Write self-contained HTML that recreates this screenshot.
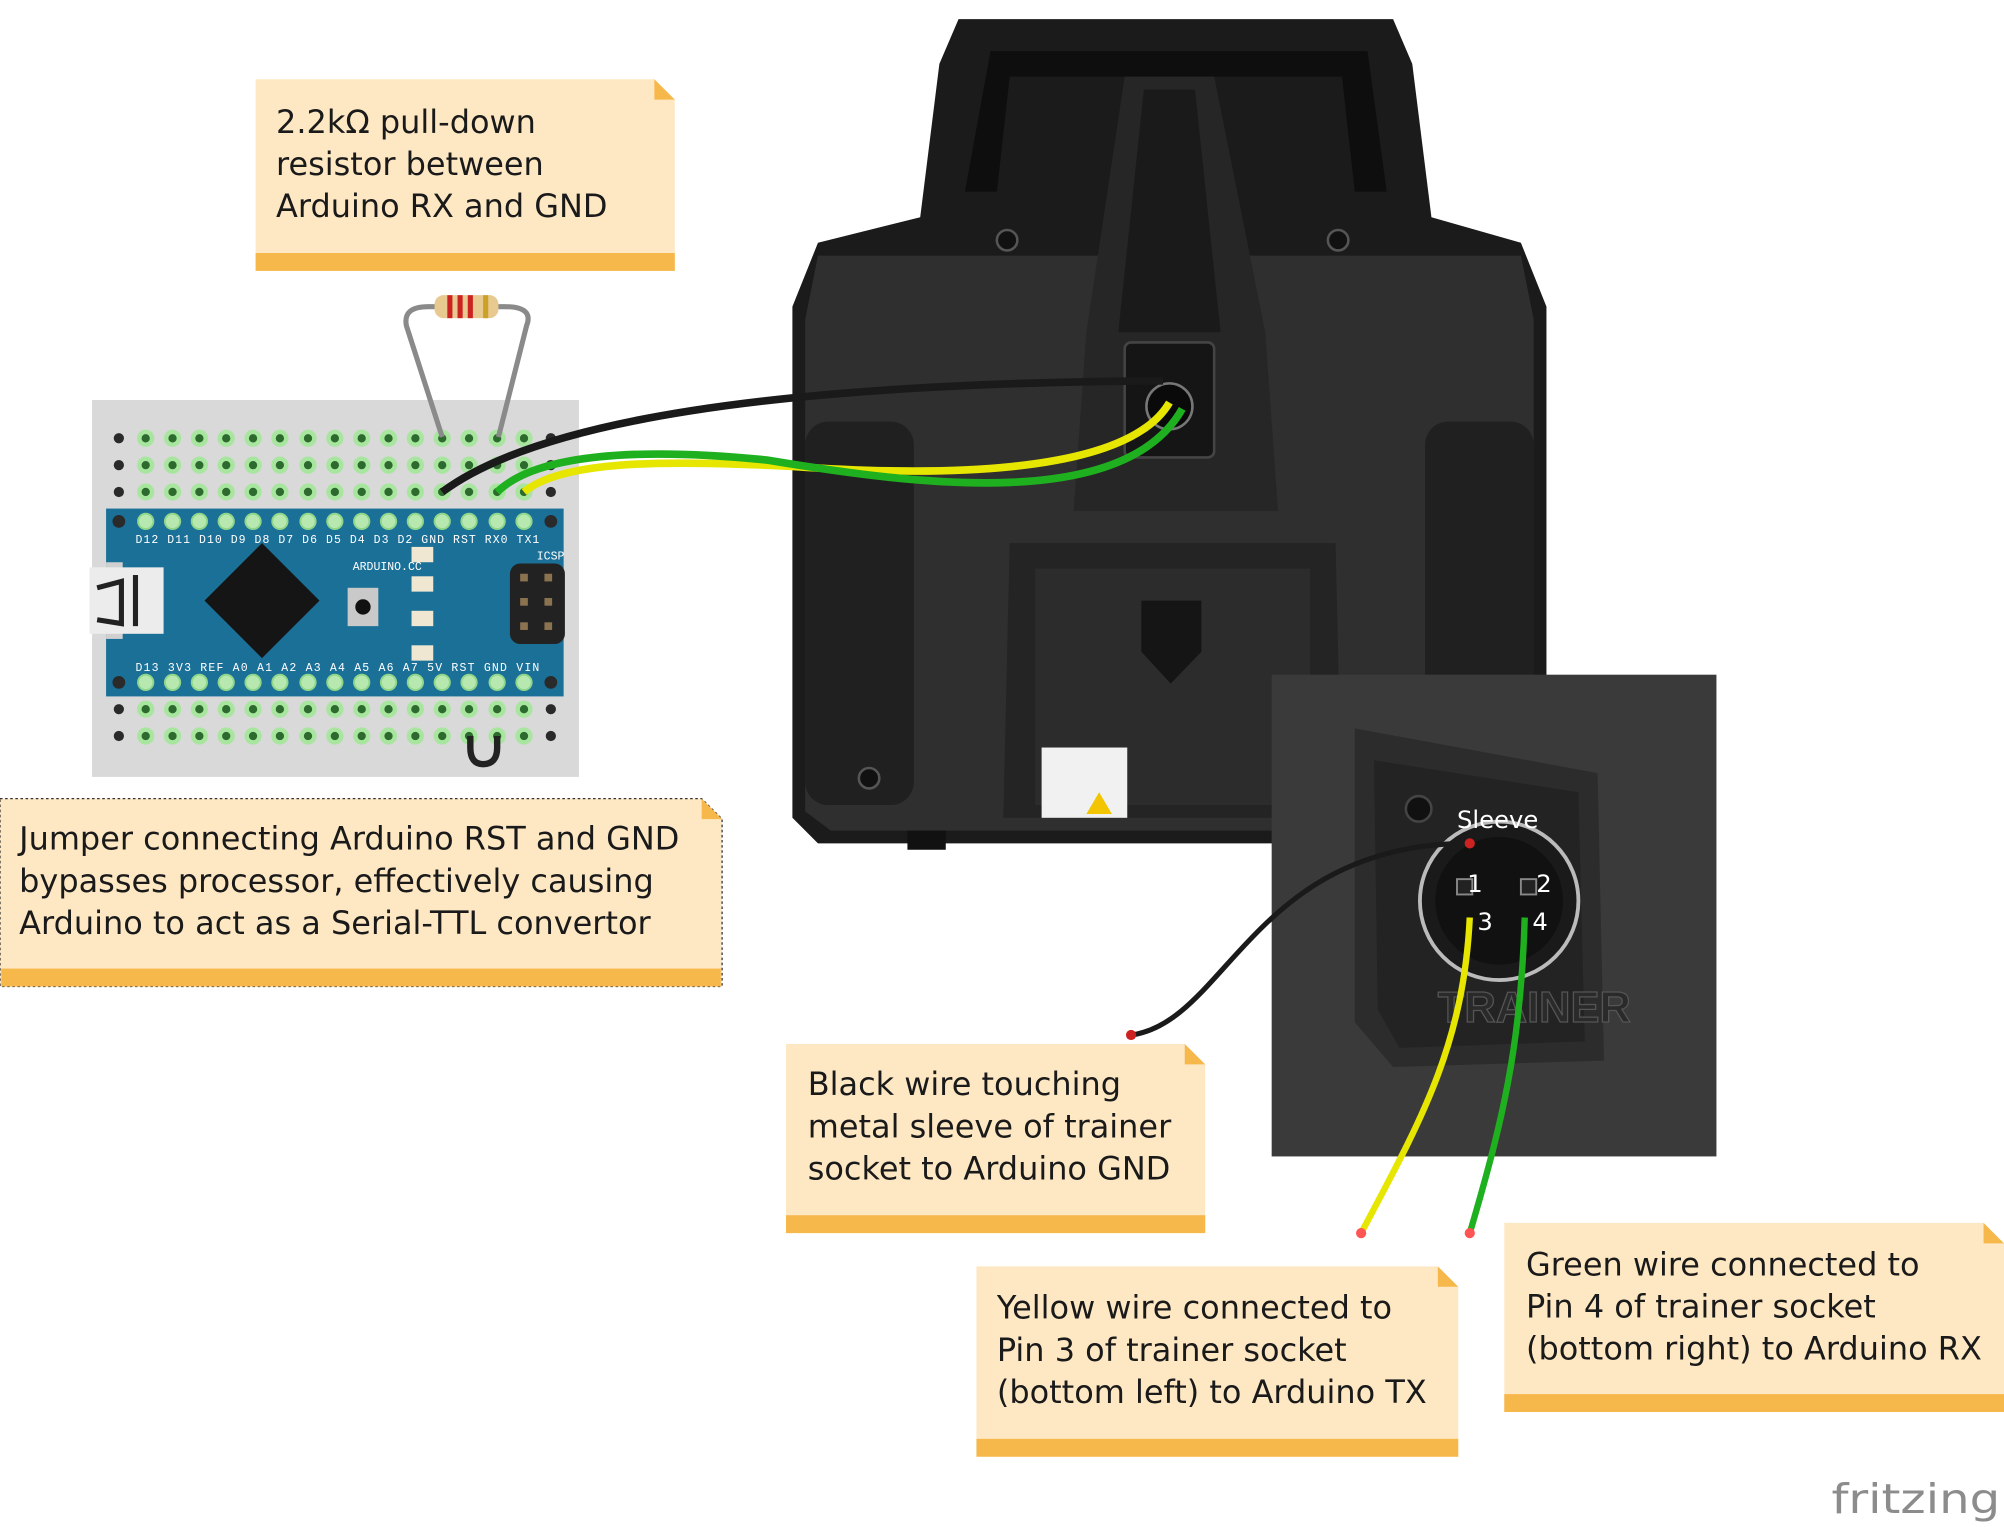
<!DOCTYPE html>
<html><head><meta charset="utf-8"><style>
html,body{margin:0;padding:0;background:#fff;}
svg{display:block;}
.n{font-family:"DejaVu Sans","Liberation Sans",sans-serif;font-size:25px;fill:#1a1a1a;}
.pl{font-family:"Liberation Mono",monospace;font-size:9px;fill:#fff;}
.h circle{fill:#2d6a2d;stroke:#a8e6a0;stroke-width:3.5;}
.p circle{fill:#b6e8b0;stroke:#8fd68a;stroke-width:1.5;}
</style></head><body>
<svg width="2004" height="1527" viewBox="0 0 1568 1195" preserveAspectRatio="none" xmlns="http://www.w3.org/2000/svg">
<rect width="1568" height="1195" fill="#fff"/>

<!-- Transmitter body -->
<path d="M750 15 L1090 15 L1105 50 L1120 170 L1190 190 L1210 240 L1210 640 L1190 660 L640 660 L620 640 L620 240 L640 190 L720 170 L735 50 Z" fill="#1b1b1b"/>
<path d="M775 40 L1070 40 L1085 150 L1060 150 L1050 60 L790 60 L780 150 L755 150 Z" fill="#0e0e0e"/>
<path d="M640 200 L1190 200 L1200 250 L1200 635 L1185 650 L650 650 L630 635 L630 250 Z" fill="#2f2f2f"/>
<path d="M880 60 L950 60 L990 260 L1000 400 L840 400 L850 260 Z" fill="#262626"/>
<path d="M895 70 L935 70 L955 260 L875 260 Z" fill="#1a1a1a"/>
<rect x="630" y="330" width="85" height="300" rx="18" fill="#202020"/>
<rect x="1115" y="330" width="85" height="300" rx="18" fill="#202020"/>
<rect x="880" y="268" width="70" height="90" rx="5" fill="#151515" stroke="#444" stroke-width="2"/>
<circle cx="915" cy="318" r="18" fill="#0a0a0a" stroke="#777" stroke-width="2"/>
<path d="M790 425 L1045 425 L1050 640 L785 640 Z" fill="#242424"/>
<path d="M810 445 L1025 445 L1025 630 L810 630 Z" fill="#2c2c2c"/>
<path d="M893 470 L940 470 L940 510 L916 535 L893 510 Z" fill="#151515"/>
<rect x="815" y="585" width="67" height="55" fill="#f1f1f1"/>
<polygon points="860,620 850,637 870,637" fill="#f2c500"/>
<circle cx="788" cy="188" r="8" fill="#111" stroke="#555" stroke-width="2"/>
<circle cx="1047" cy="188" r="8" fill="#111" stroke="#555" stroke-width="2"/>
<circle cx="680" cy="609" r="8" fill="#111" stroke="#555" stroke-width="2"/>
<rect x="710" y="650" width="30" height="15" fill="#111"/>

<!-- Inset photo -->
<rect x="995" y="528" width="348" height="377" fill="#3a3a3a"/>
<path d="M1060 570 L1250 605 L1255 830 L1090 835 L1060 800 Z" fill="#2c2c2c"/>
<path d="M1075 595 L1235 620 L1240 815 L1095 820 L1078 790 Z" fill="#232323"/>
<circle cx="1110" cy="633" r="10" fill="#111" stroke="#444" stroke-width="2"/>
<circle cx="1173" cy="705" r="62" fill="#1a1a1a" stroke="#bbb" stroke-width="3"/>
<circle cx="1173" cy="705" r="50" fill="#111"/>
<rect x="1140" y="688" width="12" height="12" fill="#222" stroke="#888" stroke-width="1.5"/>
<rect x="1190" y="688" width="12" height="12" fill="#222" stroke="#888" stroke-width="1.5"/>
<text x="1125" y="800" font-family="Liberation Sans,sans-serif" font-weight="bold" font-size="34" fill="#2a2a2a" stroke="#555" stroke-width="1">TRAINER</text>
<text x="1140" y="648" font-family="DejaVu Sans,sans-serif" font-size="19" fill="#fff">Sleeve</text>
<text x="1148" y="698" font-family="DejaVu Sans,sans-serif" font-size="19" fill="#fff">1</text>
<text x="1202" y="698" font-family="DejaVu Sans,sans-serif" font-size="19" fill="#fff">2</text>
<text x="1156" y="728" font-family="DejaVu Sans,sans-serif" font-size="19" fill="#fff">3</text>
<text x="1199" y="728" font-family="DejaVu Sans,sans-serif" font-size="19" fill="#fff">4</text>

<!-- Breadboard -->
<rect x="72" y="313" width="381" height="295" fill="#d9d9d9"/>
<g class="h">
<circle cx="114" cy="343" r="5"/><circle cx="135" cy="343" r="5"/><circle cx="156" cy="343" r="5"/><circle cx="177" cy="343" r="5"/><circle cx="198" cy="343" r="5"/><circle cx="219" cy="343" r="5"/><circle cx="241" cy="343" r="5"/><circle cx="262" cy="343" r="5"/><circle cx="283" cy="343" r="5"/><circle cx="304" cy="343" r="5"/><circle cx="325" cy="343" r="5"/><circle cx="346" cy="343" r="5"/><circle cx="367" cy="343" r="5"/><circle cx="389" cy="343" r="5"/><circle cx="410" cy="343" r="5"/>
<circle cx="114" cy="364" r="5"/><circle cx="135" cy="364" r="5"/><circle cx="156" cy="364" r="5"/><circle cx="177" cy="364" r="5"/><circle cx="198" cy="364" r="5"/><circle cx="219" cy="364" r="5"/><circle cx="241" cy="364" r="5"/><circle cx="262" cy="364" r="5"/><circle cx="283" cy="364" r="5"/><circle cx="304" cy="364" r="5"/><circle cx="325" cy="364" r="5"/><circle cx="346" cy="364" r="5"/><circle cx="367" cy="364" r="5"/><circle cx="389" cy="364" r="5"/><circle cx="410" cy="364" r="5"/>
<circle cx="114" cy="385" r="5"/><circle cx="135" cy="385" r="5"/><circle cx="156" cy="385" r="5"/><circle cx="177" cy="385" r="5"/><circle cx="198" cy="385" r="5"/><circle cx="219" cy="385" r="5"/><circle cx="241" cy="385" r="5"/><circle cx="262" cy="385" r="5"/><circle cx="283" cy="385" r="5"/><circle cx="304" cy="385" r="5"/><circle cx="325" cy="385" r="5"/><circle cx="346" cy="385" r="5"/><circle cx="367" cy="385" r="5"/><circle cx="389" cy="385" r="5"/><circle cx="410" cy="385" r="5"/>
<circle cx="114" cy="555" r="5"/><circle cx="135" cy="555" r="5"/><circle cx="156" cy="555" r="5"/><circle cx="177" cy="555" r="5"/><circle cx="198" cy="555" r="5"/><circle cx="219" cy="555" r="5"/><circle cx="241" cy="555" r="5"/><circle cx="262" cy="555" r="5"/><circle cx="283" cy="555" r="5"/><circle cx="304" cy="555" r="5"/><circle cx="325" cy="555" r="5"/><circle cx="346" cy="555" r="5"/><circle cx="367" cy="555" r="5"/><circle cx="389" cy="555" r="5"/><circle cx="410" cy="555" r="5"/>
<circle cx="114" cy="576" r="5"/><circle cx="135" cy="576" r="5"/><circle cx="156" cy="576" r="5"/><circle cx="177" cy="576" r="5"/><circle cx="198" cy="576" r="5"/><circle cx="219" cy="576" r="5"/><circle cx="241" cy="576" r="5"/><circle cx="262" cy="576" r="5"/><circle cx="283" cy="576" r="5"/><circle cx="304" cy="576" r="5"/><circle cx="325" cy="576" r="5"/><circle cx="346" cy="576" r="5"/><circle cx="367" cy="576" r="5"/><circle cx="389" cy="576" r="5"/><circle cx="410" cy="576" r="5"/>
</g>
<g fill="#2a2a2a">
<circle cx="93" cy="343" r="4"/><circle cx="93" cy="364" r="4"/><circle cx="93" cy="385" r="4"/><circle cx="93" cy="555" r="4"/><circle cx="93" cy="576" r="4"/>
<circle cx="431" cy="343" r="4"/><circle cx="431" cy="364" r="4"/><circle cx="431" cy="385" r="4"/><circle cx="431" cy="555" r="4"/><circle cx="431" cy="576" r="4"/>
</g>

<!-- Arduino -->
<rect x="83" y="398" width="358" height="147" fill="#1b7098"/>
<rect x="83" y="440" width="13" height="60" fill="#d0d0d0"/>
<rect x="70" y="444" width="58" height="52" fill="#ececec"/>
<rect x="104" y="450" width="4" height="40" fill="#222"/>
<path d="M76 460 L95 455 L95 488 L76 485" fill="none" stroke="#222" stroke-width="4"/>
<polygon points="205,425 250,470 205,515 160,470" fill="#151515"/>
<rect x="272" y="460" width="24" height="30" fill="#c9c9c9"/>
<circle cx="284" cy="475" r="6" fill="#111"/>
<rect x="322" y="428" width="17" height="12" fill="#efe7d2"/>
<rect x="322" y="451" width="17" height="12" fill="#efe7d2"/>
<rect x="322" y="478" width="17" height="12" fill="#efe7d2"/>
<rect x="322" y="505" width="17" height="12" fill="#efe7d2"/>
<rect x="399" y="441" width="43" height="63" rx="8" fill="#222"/>
<g fill="#8b7350"><rect x="407" y="449" width="6" height="6"/><rect x="426" y="449" width="6" height="6"/><rect x="407" y="468" width="6" height="6"/><rect x="426" y="468" width="6" height="6"/><rect x="407" y="487" width="6" height="6"/><rect x="426" y="487" width="6" height="6"/></g>
<text class="pl" x="106" y="425" textLength="316" lengthAdjust="spacing">D12 D11 D10 D9  D8  D7  D6  D5  D4  D3  D2 GND RST RX0 TX1</text>
<text class="pl" x="106" y="525" textLength="316" lengthAdjust="spacing">D13 3V3 REF A0  A1  A2  A3  A4  A5  A6  A7  5V RST GND VIN</text>
<text class="pl" x="276" y="446">ARDUINO.CC</text>
<text class="pl" x="420" y="438">ICSP</text>
<g class="p">
<circle cx="114" cy="408" r="6"/><circle cx="135" cy="408" r="6"/><circle cx="156" cy="408" r="6"/><circle cx="177" cy="408" r="6"/><circle cx="198" cy="408" r="6"/><circle cx="219" cy="408" r="6"/><circle cx="241" cy="408" r="6"/><circle cx="262" cy="408" r="6"/><circle cx="283" cy="408" r="6"/><circle cx="304" cy="408" r="6"/><circle cx="325" cy="408" r="6"/><circle cx="346" cy="408" r="6"/><circle cx="367" cy="408" r="6"/><circle cx="389" cy="408" r="6"/><circle cx="410" cy="408" r="6"/>
<circle cx="114" cy="534" r="6"/><circle cx="135" cy="534" r="6"/><circle cx="156" cy="534" r="6"/><circle cx="177" cy="534" r="6"/><circle cx="198" cy="534" r="6"/><circle cx="219" cy="534" r="6"/><circle cx="241" cy="534" r="6"/><circle cx="262" cy="534" r="6"/><circle cx="283" cy="534" r="6"/><circle cx="304" cy="534" r="6"/><circle cx="325" cy="534" r="6"/><circle cx="346" cy="534" r="6"/><circle cx="367" cy="534" r="6"/><circle cx="389" cy="534" r="6"/><circle cx="410" cy="534" r="6"/>
</g>
<g fill="#2a2a2a"><circle cx="93" cy="408" r="5"/><circle cx="431" cy="408" r="5"/><circle cx="93" cy="534" r="5"/><circle cx="431" cy="534" r="5"/></g>

<!-- resistor -->
<path d="M346 342 L318 255 Q315 240 335 240 L395 240 Q418 240 412 255 L390 342" fill="none" stroke="#8a8a8a" stroke-width="4"/>
<rect x="340" y="231" width="50" height="18" rx="7" fill="#e8c98f"/>
<rect x="350" y="231" width="4" height="18" fill="#c22"/><rect x="358" y="231" width="4" height="18" fill="#c22"/><rect x="366" y="231" width="4" height="18" fill="#c22"/><rect x="378" y="231" width="4" height="18" fill="#c9a227"/>

<!-- jumper -->
<path d="M368 576 L368 585 Q368 598 378 598 Q389 598 389 585 L389 576" fill="none" stroke="#222" stroke-width="5"/>

<!-- wires on board to transmitter -->
<path d="M346 385 C420 330 600 300 910 298" fill="none" stroke="#1a1a1a" stroke-width="6"/>
<path d="M410 385 C440 360 520 360 620 365 C720 372 880 375 915 315" fill="none" stroke="#e6e600" stroke-width="6"/>
<path d="M389 385 C420 355 500 350 600 360 C720 380 880 400 925 320" fill="none" stroke="#1fb01f" stroke-width="6"/>

<!-- inset wires -->
<path d="M885 810 C960 800 980 660 1150 660" fill="none" stroke="#1a1a1a" stroke-width="4"/>
<path d="M1150 718 C1145 820 1110 880 1065 965" fill="none" stroke="#e6e600" stroke-width="5"/>
<path d="M1193 718 C1190 820 1175 880 1150 965" fill="none" stroke="#1fb01f" stroke-width="5"/>
<circle cx="885" cy="810" r="4" fill="#c22"/>
<circle cx="1150" cy="660" r="4" fill="#c22"/>
<circle cx="1065" cy="965" r="4" fill="#f55"/>
<circle cx="1150" cy="965" r="4" fill="#f55"/>

<!-- Notes -->
<g>
<path d="M200 62 L512 62 L528 78 L528 212 L200 212 Z" fill="#fee8c4"/>
<rect x="200" y="198" width="328" height="14" fill="#f7b84b"/>
<polygon points="512,62 528,78 512,78" fill="#f7b84b"/>
<text class="n" x="216" y="104">2.2kΩ pull-down</text>
<text class="n" x="216" y="137">resistor between</text>
<text class="n" x="216" y="170">Arduino RX and GND</text>
</g>
<g>
<path d="M0 625 L549 625 L565 641 L565 772 L0 772 Z" fill="#fee8c4" stroke="#333" stroke-width="1" stroke-dasharray="2,2"/>
<rect x="1" y="758" width="563" height="14" fill="#f7b84b"/>
<polygon points="549,625 565,641 549,641" fill="#f7b84b"/>
<text class="n" x="15" y="665">Jumper connecting Arduino RST and GND</text>
<text class="n" x="15" y="698">bypasses processor, effectively causing</text>
<text class="n" x="15" y="731">Arduino to act as a Serial-TTL convertor</text>
</g>
<g>
<path d="M615 817 L927 817 L943 833 L943 965 L615 965 Z" fill="#fee8c4"/>
<rect x="615" y="951" width="328" height="14" fill="#f7b84b"/>
<polygon points="927,817 943,833 927,833" fill="#f7b84b"/>
<text class="n" x="632" y="857">Black wire touching</text>
<text class="n" x="632" y="890">metal sleeve of trainer</text>
<text class="n" x="632" y="923">socket to Arduino GND</text>
</g>
<g>
<path d="M764 991 L1125 991 L1141 1007 L1141 1140 L764 1140 Z" fill="#fee8c4"/>
<rect x="764" y="1126" width="377" height="14" fill="#f7b84b"/>
<polygon points="1125,991 1141,1007 1125,1007" fill="#f7b84b"/>
<text class="n" x="780" y="1032">Yellow wire connected to</text>
<text class="n" x="780" y="1065">Pin 3 of trainer socket</text>
<text class="n" x="780" y="1098">(bottom left) to Arduino TX</text>
</g>
<g>
<path d="M1177 957 L1552 957 L1568 973 L1568 1105 L1177 1105 Z" fill="#fee8c4"/>
<rect x="1177" y="1091" width="391" height="14" fill="#f7b84b"/>
<polygon points="1552,957 1568,973 1552,973" fill="#f7b84b"/>
<text class="n" x="1194" y="998">Green wire connected to</text>
<text class="n" x="1194" y="1031">Pin 4 of trainer socket</text>
<text class="n" x="1194" y="1064">(bottom right) to Arduino RX</text>
</g>

<text x="1433" y="1184" font-family="DejaVu Sans,sans-serif" font-size="32" fill="#8c8c8c" textLength="132" lengthAdjust="spacingAndGlyphs">fritzing</text>
</svg>
</body></html>
